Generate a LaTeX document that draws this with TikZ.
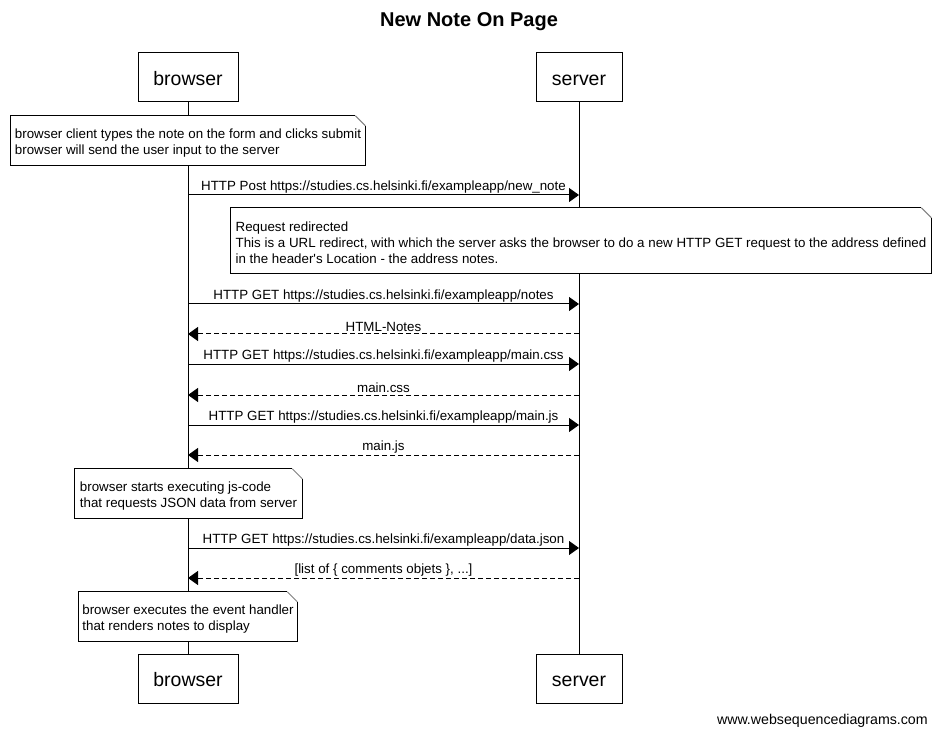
\documentclass[tikz,border=0pt]{standalone}
\usepackage{fontspec}
\setmainfont{Liberation Sans}
\usetikzlibrary{arrows.meta}

\tikzset{
  actor/.style={draw, line width=0.75pt, minimum height=36.75pt, text height=14.5pt, text depth=3pt, font=\fontsize{14.6}{17}\selectfont},
  note/.style={fill=white, align=left, minimum height=36.75pt, inner sep=0pt, text height=23pt, font=\fontsize{10}{12}\selectfont},
  msg/.style={line width=0.75pt, -{Triangle[length=7.5pt,width=10.5pt]}},
  reply/.style={msg, dash pattern=on 3.75pt off 2.25pt},
  lbl/.style={above, inner sep=2pt, yshift=-0.75pt, font=\fontsize{10}{12}\selectfont}
}

% note outline with the folded corner
\newcommand\dogear[1]{%
  \draw[line width=0.75pt] ([yshift=-7.5pt]#1.north east) -- (#1.south east) -- (#1.south west)
    -- (#1.north west) -- ([xshift=-7.5pt]#1.north east);
  \draw[line width=0.75pt, gray] ([xshift=-7.5pt]#1.north east) -- ([yshift=-7.5pt]#1.north east);}

\begin{document}
\begin{tikzpicture}[x=0.75pt,y=-0.75pt]
  \useasboundingbox (0,0) rectangle (937,737);

  \node (title) at (469,22) {\fontsize{15}{18}\selectfont\bfseries New Note On Page};

  % actors, top and bottom
  \node[actor, minimum width=75pt] (browser) at (188,77.5) {browser};
  \node[actor, minimum width=64.5pt] (server) at (579,77.5) {server};
  \node[actor, minimum width=75pt] (browser2) at (188,678.5) {browser};
  \node[actor, minimum width=64.5pt] (server2) at (579,678.5) {server};

  \draw[line width=0.75pt] (browser) -- (browser2);
  \draw[line width=0.75pt] (server) -- (server2);

  % points on the lifelines
  \coordinate (b1) at (188,195); \coordinate (s1) at (579,195);
  \coordinate (b2) at (188,304); \coordinate (s2) at (579,304);
  \coordinate (b3) at (188,334); \coordinate (s3) at (579,334);
  \coordinate (b4) at (188,364); \coordinate (s4) at (579,364);
  \coordinate (b5) at (188,395); \coordinate (s5) at (579,395);
  \coordinate (b6) at (188,425); \coordinate (s6) at (579,425);
  \coordinate (b7) at (188,455); \coordinate (s7) at (579,455);
  \coordinate (b8) at (188,548); \coordinate (s8) at (579,548);
  \coordinate (b9) at (188,578); \coordinate (s9) at (579,578);

  \node[note, minimum width=265.5pt] (submit) at (188,140.5)
    {browser client types the note on the form and clicks submit\\browser will send the user input to the server};
  \dogear{submit}

  \draw[msg] (b1) -- node[lbl] {HTTP Post https://studies.cs.helsinki.fi/exampleapp/new\_note} (s1);

  \node[note, minimum width=525pt, minimum height=48.75pt, text height=34pt] (redirect) at (581,240.5)
    {Request redirected\\This is a URL redirect, with which the server asks the browser to do a new HTTP GET request to the address defined\\in the header\textquotesingle s Location - the address notes.};
  \dogear{redirect}

  \draw[msg] (b2) -- node[lbl] {HTTP GET https://studies.cs.helsinki.fi/exampleapp/notes} (s2);
  \draw[reply] (s3) -- node[lbl] {HTML-Notes} (b3);
  \draw[msg] (b4) -- node[lbl] {HTTP GET https://studies.cs.helsinki.fi/exampleapp/main.css} (s4);
  \draw[reply] (s5) -- node[lbl] {main.css} (b5);
  \draw[msg] (b6) -- node[lbl] {HTTP GET https://studies.cs.helsinki.fi/exampleapp/main.js} (s6);
  \draw[reply] (s7) -- node[lbl] {main.js} (b7);

  \node[note, minimum width=170.25pt] (jscode) at (188.5,493.5)
    {browser starts executing js-code\\that requests JSON data from server};
  \dogear{jscode}

  \draw[msg] (b8) -- node[lbl] {HTTP GET https://studies.cs.helsinki.fi/exampleapp/data.json} (s8);
  \draw[reply] (s9) -- node[lbl] {[list of \{ comments objets \}, ...]} (b9);

  \node[note, minimum width=163.5pt] (render) at (188,616.5)
    {browser executes the event handler\\that renders notes to display};
  \dogear{render}

  \node[anchor=east, inner sep=0pt, font=\fontsize{10.65}{12}\selectfont] (wsd) at (928,721) {www.websequencediagrams.com};
\end{tikzpicture}
\end{document}
